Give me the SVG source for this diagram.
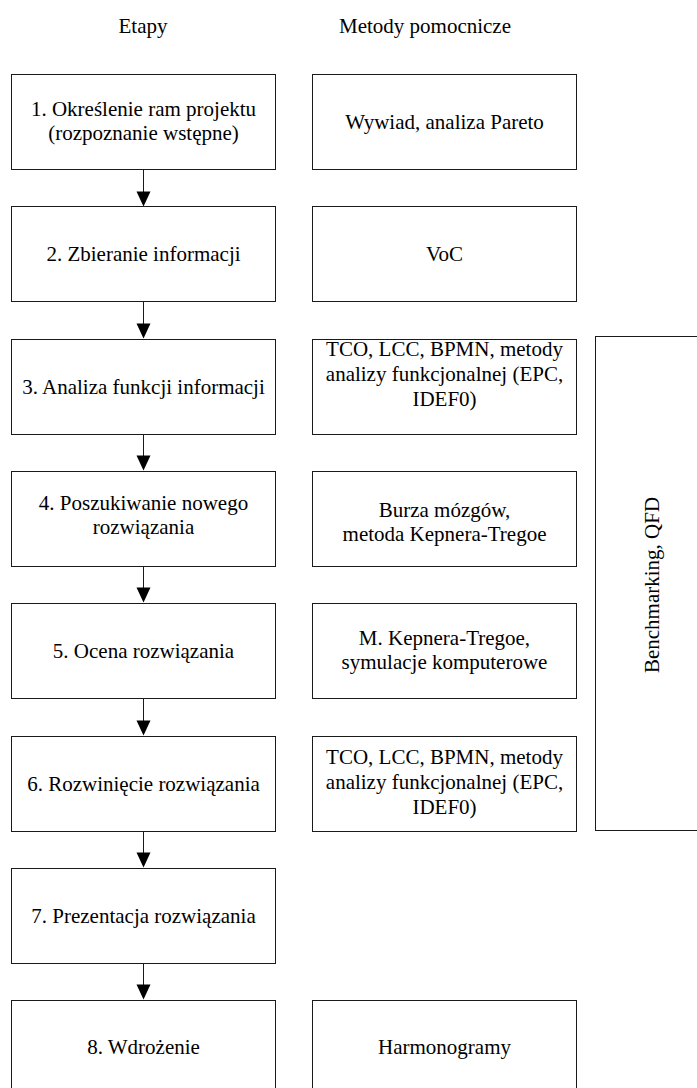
<svg xmlns="http://www.w3.org/2000/svg" width="697" height="1088" viewBox="0 0 697 1088">
<style>
.box{fill:#fff;stroke:#1a1a1a;stroke-width:1}
.t{font-family:"Liberation Serif","Times New Roman",serif;font-size:21px;fill:#000;text-anchor:middle}
.ln{stroke:#1a1a1a;stroke-width:1;fill:none}
.ah{fill:#000;stroke:none}
</style>
<rect width="697" height="1088" fill="#fff"/>
<g id="headers">
<text class="t" x="143" y="33">Etapy</text>
<text class="t" x="425" y="33">Metody pomocnicze</text>
</g>
<g id="connectors">
<path class="ln" d="M143.5,169.5 V192"/><path class="ah" d="M136.5,191.5 H150.5 L143.5,206.5 Z"/>
<path class="ln" d="M143.5,301.5 V324"/><path class="ah" d="M136.5,323.5 H150.5 L143.5,338.5 Z"/>
<path class="ln" d="M143.5,434.5 V456"/><path class="ah" d="M136.5,455.5 H150.5 L143.5,470.5 Z"/>
<path class="ln" d="M143.5,566.5 V588"/><path class="ah" d="M136.5,587.5 H150.5 L143.5,602.5 Z"/>
<path class="ln" d="M143.5,698.5 V721"/><path class="ah" d="M136.5,720.5 H150.5 L143.5,735.5 Z"/>
<path class="ln" d="M143.5,831.5 V853"/><path class="ah" d="M136.5,852.5 H150.5 L143.5,867.5 Z"/>
<path class="ln" d="M143.5,963.5 V985"/><path class="ah" d="M136.5,984.5 H150.5 L143.5,999.5 Z"/>
</g>
<g id="s1"><rect class="box" x="11.5" y="74.5" width="264" height="95"/><text class="t" x="143.5" y="116">1. Określenie ram projektu</text><text class="t" x="143.5" y="140">(rozpoznanie wstępne)</text></g>
<g id="m1"><rect class="box" x="312.5" y="74.5" width="264" height="95"/><text class="t" x="444.5" y="129">Wywiad, analiza Pareto</text></g>
<g id="s2"><rect class="box" x="11.5" y="206.5" width="264" height="95"/><text class="t" x="143.5" y="261">2. Zbieranie informacji</text></g>
<g id="m2"><rect class="box" x="312.5" y="206.5" width="264" height="95"/><text class="t" x="444.5" y="261">VoC</text></g>
<g id="s3"><rect class="box" x="11.5" y="339.5" width="264" height="95"/><text class="t" x="143.5" y="394">3. Analiza funkcji informacji</text></g>
<g id="m3"><rect class="box" x="312.5" y="339.5" width="264" height="95"/><text class="t" x="444.5" y="356">TCO, LCC, BPMN, metody</text><text class="t" x="444.5" y="381">analizy funkcjonalnej (EPC,</text><text class="t" x="444.5" y="406">IDEF0)</text></g>
<g id="s4"><rect class="box" x="11.5" y="471.5" width="264" height="95"/><text class="t" x="143.5" y="510">4. Poszukiwanie nowego</text><text class="t" x="143.5" y="534">rozwiązania</text></g>
<g id="m4"><rect class="box" x="312.5" y="471.5" width="264" height="95"/><text class="t" x="444.5" y="517">Burza mózgów,</text><text class="t" x="444.5" y="541">metoda Kepnera-Tregoe</text></g>
<g id="s5"><rect class="box" x="11.5" y="603.5" width="264" height="95"/><text class="t" x="143.5" y="658">5. Ocena rozwiązania</text></g>
<g id="m5"><rect class="box" x="312.5" y="603.5" width="264" height="95"/><text class="t" x="444.5" y="645">M. Kepnera-Tregoe,</text><text class="t" x="444.5" y="669">symulacje komputerowe</text></g>
<g id="s6"><rect class="box" x="11.5" y="736.5" width="264" height="95"/><text class="t" x="143.5" y="791">6. Rozwinięcie rozwiązania</text></g>
<g id="m6"><rect class="box" x="312.5" y="736.5" width="264" height="95"/><text class="t" x="444.5" y="764">TCO, LCC, BPMN, metody</text><text class="t" x="444.5" y="789">analizy funkcjonalnej (EPC,</text><text class="t" x="444.5" y="814">IDEF0)</text></g>
<g id="s7"><rect class="box" x="11.5" y="868.5" width="264" height="95"/><text class="t" x="143.5" y="923">7. Prezentacja rozwiązania</text></g>
<g id="s8"><rect class="box" x="11.5" y="1000.5" width="264" height="95"/><text class="t" x="143.5" y="1054">8. Wdrożenie</text></g>
<g id="m8"><rect class="box" x="312.5" y="1000.5" width="264" height="95"/><text class="t" x="444.5" y="1054">Harmonogramy</text></g>
<g id="bench"><rect class="box" x="595.5" y="336.5" width="130" height="494"/><text class="t" transform="translate(659,585) rotate(-90)" x="0" y="0">Benchmarking, QFD</text></g>
</svg>
